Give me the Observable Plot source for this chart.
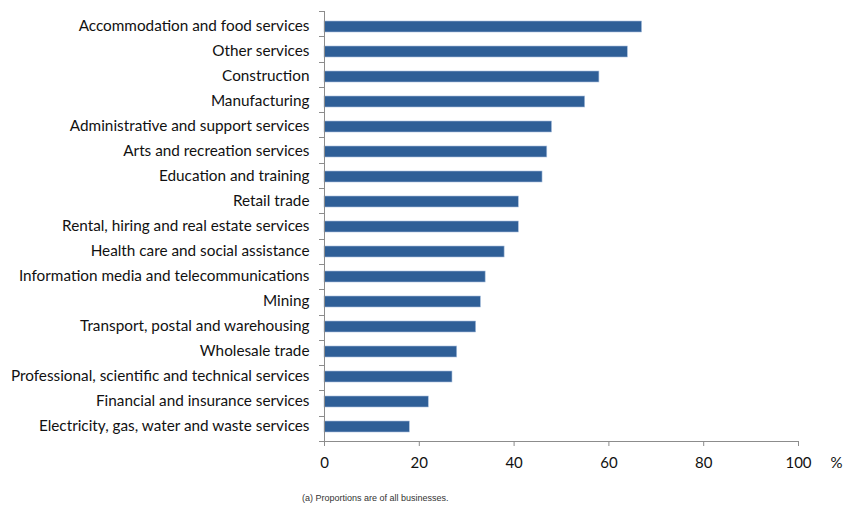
<!DOCTYPE html>
<html>
<head>
<meta charset="utf-8">
<script src="https://cdn.jsdelivr.net/npm/d3@7"></script>
<script src="https://cdn.jsdelivr.net/npm/@observablehq/plot@0.6"></script>
<style>
  html, body { margin: 0; padding: 0; background: #fff; }
  #chart svg { display: block; }
  #caption { font-family: "Liberation Sans", Arial, sans-serif; font-size: 9px; color: #333; margin-left: 302px; margin-top: 12px; line-height: 12px; }
</style>
</head>
<body>
<div id="chart"></div>
<div id="caption">(a) Proportions are of all businesses.</div>
<script>
const industries = [
  "Accommodation and food services",
  "Other services",
  "Construction",
  "Manufacturing",
  "Administrative and support services",
  "Arts and recreation services",
  "Education and training",
  "Retail trade",
  "Rental, hiring and real estate services",
  "Health care and social assistance",
  "Information media and telecommunications",
  "Mining",
  "Transport, postal and warehousing",
  "Wholesale trade",
  "Professional, scientific and technical services",
  "Financial and insurance services",
  "Electricity, gas, water and waste services"
];
const percents = [67, 64, 58, 55, 48, 47, 46, 41, 41, 38, 34, 33, 32, 28, 27, 22, 18];
const xTicks = [0, 20, 40, 60, 80, 100];
const unitLabel = "%";

const data = industries.map((name, i) => ({name, value: percents[i]}));

const axisColor = "#8c8c8c";
const textColor = "#111";
const labelFont = "Lato, 'Open Sans', sans-serif";

// Tick marks between categories on the y axis (Excel style)
function categoryTicks(index, scales, values, dimensions) {
  const top = dimensions.marginTop;
  const bottom = dimensions.height - dimensions.marginBottom;
  const left = dimensions.marginLeft;
  const n = industries.length;
  const step = (bottom - top) / n;
  const g = d3.create("svg:g");
  for (let i = 0; i <= n; i++) {
    const yy = Math.round(top + i * step) + 0.5;
    g.append("line")
      .attr("x1", left - 5).attr("x2", left)
      .attr("y1", yy).attr("y2", yy)
      .attr("stroke", axisColor).attr("stroke-width", 1);
  }
  return g.node();
}

const chart = Plot.plot({
  width: 843,
  height: 480,
  marginTop: 11,
  marginBottom: 39,
  marginLeft: 324,
  marginRight: 45,
  style: { fontFamily: labelFont, fontSize: "15px", color: textColor, background: "#fff" },
  x: { domain: [0, 100] },
  y: { domain: industries, paddingInner: 0.58, paddingOuter: 0.29, align: 0.5 },
  marks: [
    Plot.barX(data, { y: "name", x: "value", fill: "#2f5f97", stroke: "#aac0dc", strokeWidth: 0.6 }),
    Plot.frame({ anchor: "left", stroke: axisColor }),
    Plot.frame({ anchor: "bottom", stroke: axisColor }),
    categoryTicks,
    Plot.axisY({ tickSize: 0, tickPadding: 15, label: null, fontSize: 15.3, fill: textColor, dy: -1 }),
    Plot.axisX({ ticks: xTicks, tickSize: 5, tickPadding: 11, stroke: axisColor, label: null, fontSize: 15, fill: textColor }),
    Plot.text([unitLabel], { frameAnchor: "bottom-right", dx: 44, dy: 22, lineAnchor: "middle", fontSize: 15, fill: textColor })
  ]
});

document.getElementById("chart").appendChild(chart);
</script>
</body>
</html>
